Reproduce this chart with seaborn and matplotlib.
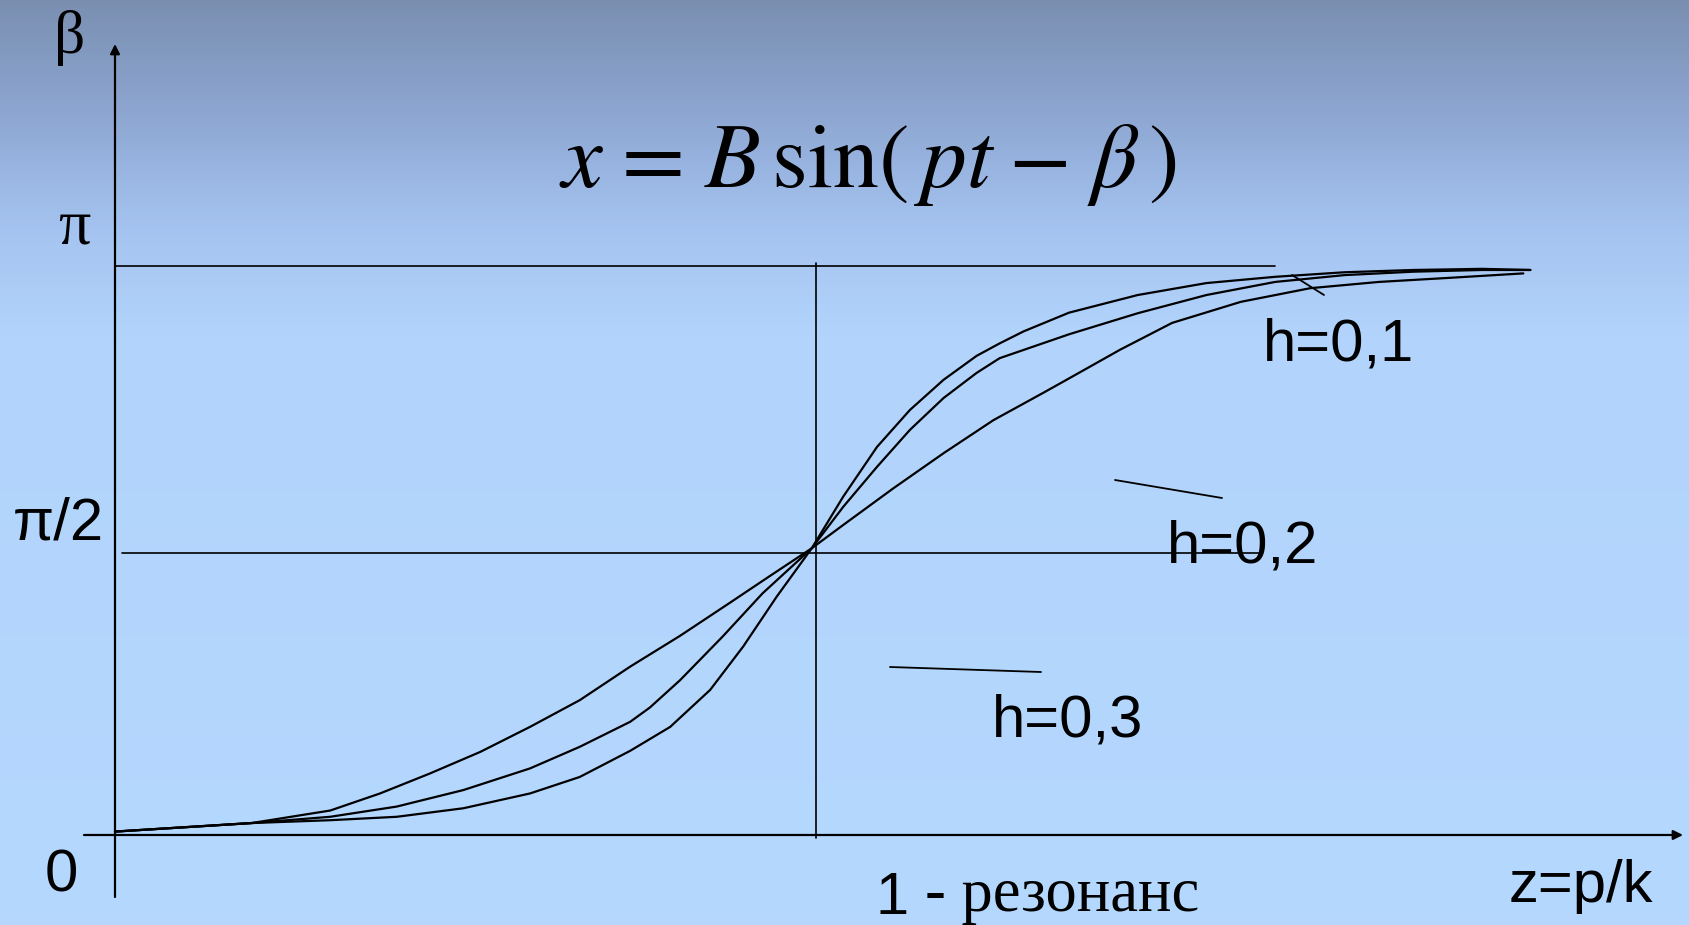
import numpy as np
import pandas as pd
import matplotlib
matplotlib.use("Agg")
import matplotlib.pyplot as plt
import seaborn as sns
from matplotlib.colors import LinearSegmentedColormap

# ---- data (z = p/k, beta in units of pi) ----
z_h03 = [0.000, 0.195, 0.307, 0.378, 0.449, 0.521, 0.592, 0.663, 0.735, 0.806, 0.877,
         0.934, 0.994, 1.039, 1.110, 1.182, 1.253, 1.324, 1.356, 1.434, 1.508, 1.606,
         1.705, 1.803, 1.901, 2.009]
b_h03 = [0.006, 0.021, 0.043, 0.073, 0.108, 0.146, 0.190, 0.237, 0.296, 0.350, 0.408,
         0.455, 0.504, 0.545, 0.609, 0.671, 0.729, 0.777, 0.799, 0.853, 0.900, 0.937,
         0.961, 0.972, 0.979, 0.987]

z_h02 = [0.000, 0.195, 0.307, 0.402, 0.497, 0.592, 0.663, 0.735, 0.763, 0.806, 0.867,
         0.924, 0.994, 1.039, 1.087, 1.134, 1.182, 1.229, 1.262, 1.361, 1.459, 1.557,
         1.655, 1.754, 1.852, 1.950, 2.019]
b_h02 = [0.006, 0.021, 0.032, 0.050, 0.079, 0.117, 0.155, 0.199, 0.224, 0.272, 0.349,
         0.425, 0.504, 0.577, 0.647, 0.712, 0.768, 0.812, 0.838, 0.880, 0.917, 0.949,
         0.972, 0.984, 0.990, 0.993, 0.993]

z_h01 = [0.000, 0.195, 0.307, 0.402, 0.497, 0.592, 0.663, 0.735, 0.792, 0.849, 0.896,
         0.944, 0.994, 1.039, 1.087, 1.134, 1.182, 1.229, 1.262, 1.296, 1.361, 1.459,
         1.557, 1.655, 1.754, 1.852, 1.950, 2.019]
b_h01 = [0.006, 0.021, 0.026, 0.032, 0.047, 0.073, 0.102, 0.148, 0.190, 0.255, 0.331,
         0.419, 0.504, 0.595, 0.682, 0.747, 0.800, 0.842, 0.864, 0.885, 0.918, 0.949,
         0.970, 0.981, 0.989, 0.993, 0.995, 0.993]

h_labels = ["h=0,1", "h=0,2", "h=0,3"]
y_tick_labels = ["0", "π/2", "π"]

frames = []
for lab, zz, bb in zip(h_labels, [z_h01, z_h02, z_h03], [b_h01, b_h02, b_h03]):
    frames.append(pd.DataFrame({"z": zz, "beta": bb, "h": lab}))
df = pd.concat(frames, ignore_index=True)

# ---- figure ----
sns.set_theme(style="white")
plt.rcParams["font.family"] = ["Liberation Sans", "DejaVu Sans"]
plt.rcParams["mathtext.fontset"] = "stix"
plt.rcParams["text.color"] = "black"

W, H = 1690, 925
fig = plt.figure(figsize=(W / 100, H / 100), dpi=100)
ax = fig.add_axes([0, 0, 1, 1])

# pixel -> data mapping: z=0 at px 115, z=1 at px 816 ; beta=0 at py 835, beta=1 at py 266
def zx(px):
    return (px - 115) / 701.0

def by(py):
    return (835 - py) / 569.0

ax.set_xlim(zx(0), zx(W))
ax.set_ylim(by(H), by(0))
ax.axis("off")

# background gradient
cmap = LinearSegmentedColormap.from_list(
    "bg", [(0.0, (0.478, 0.561, 0.694)), (0.12, (0.553, 0.651, 0.820)),
           (0.24, (0.643, 0.761, 0.937)), (0.36, (0.698, 0.831, 0.988)),
           (1.0, (0.710, 0.847, 1.0))])
grad = np.linspace(0, 1, 256).reshape(-1, 1)
ax.imshow(grad, cmap=cmap, aspect="auto", extent=(zx(0), zx(W), by(H), by(0)),
          origin="upper", zorder=0)

# curves
sns.lineplot(data=df, x="z", y="beta", hue="h", units="h", estimator=None, sort=False,
             palette=["black"] * 3, linewidth=1.6, legend=False, ax=ax, zorder=3,
             solid_joinstyle="round")

# reference lines
lc = "black"
ax.plot([zx(115), zx(1275)], [1.0, 1.0], color=lc, lw=1.2, zorder=2)
ax.plot([zx(122), zx(1261)], [by(553), by(553)], color=lc, lw=1.2, zorder=2)
ax.plot([1.0, 1.0], [by(838), by(263)], color=lc, lw=1.2, zorder=2)

# axes with arrows
ax.annotate("", xy=(zx(1683), 0.0), xytext=(zx(84), 0.0),
            arrowprops=dict(arrowstyle="-|>", color=lc, lw=1.6, mutation_scale=14,
                            shrinkA=0, shrinkB=0), zorder=4)
ax.annotate("", xy=(0.0, by(44)), xytext=(0.0, by(897)),
            arrowprops=dict(arrowstyle="-|>", color=lc, lw=1.6, mutation_scale=14,
                            shrinkA=0, shrinkB=0), zorder=4)

# leader lines for labels
ax.plot([zx(1292), zx(1324)], [by(275), by(295)], color=lc, lw=1.3, zorder=3)
ax.plot([zx(1115), zx(1222)], [by(480), by(498)], color=lc, lw=1.3, zorder=3)
ax.plot([zx(890), zx(1041)], [by(667), by(672)], color=lc, lw=1.3, zorder=3)

# curve labels
fs = 43
ax.text(zx(1263), by(361), h_labels[0], fontsize=fs, ha="left", va="baseline", zorder=5)
ax.text(zx(1167), by(563), h_labels[1], fontsize=fs, ha="left", va="baseline", zorder=5)
ax.text(zx(992), by(737), h_labels[2], fontsize=fs, ha="left", va="baseline", zorder=5)

# axis texts
serif = ["Liberation Serif", "DejaVu Serif"]
ax.text(zx(70), by(53), "β", fontsize=44, family=serif, ha="center", va="baseline", zorder=5)
ax.text(zx(74), by(243), y_tick_labels[2], fontsize=46, family=serif,
        ha="center", va="baseline", zorder=5)
ax.text(zx(13), by(539), y_tick_labels[1], fontsize=fs, ha="left", va="baseline", zorder=5)
ax.text(zx(61), by(892), y_tick_labels[0], fontsize=fs, ha="center", va="baseline", zorder=5)
ax.text(zx(1509), by(902), "z=p/k", fontsize=fs, ha="left", va="baseline", zorder=5)
ax.text(zx(875), by(914), "1", fontsize=fs, ha="left", va="baseline", zorder=5)
ax.text(zx(925), by(911), "- резонанс", fontsize=45, family=serif,
        ha="left", va="baseline", zorder=5)

# formula
ax.text(zx(868), by(187),
        r"$x\hspace{0.1}=\hspace{0.1}B\,\sin(\,pt\hspace{0.05}-\hspace{0.1}\beta\,)$",
        fontsize=66, ha="center", va="baseline", zorder=5)

fig.savefig("out.png", dpi=100)
